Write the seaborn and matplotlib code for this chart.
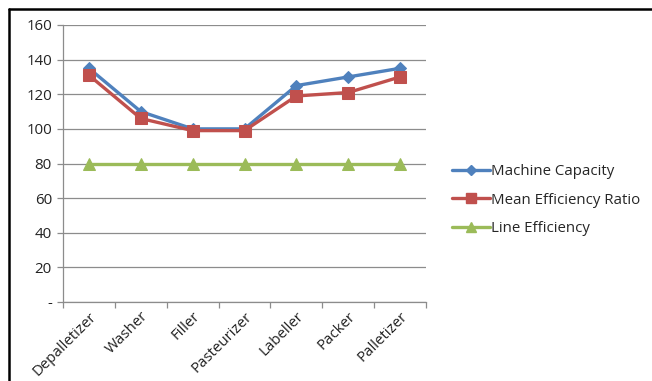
import matplotlib
matplotlib.use("Agg")
import matplotlib.pyplot as plt
from matplotlib.lines import Line2D
from matplotlib.ticker import FixedLocator, FuncFormatter
import seaborn as sns
import pandas as pd

# Production line stages and their rates
stages = ["Depalletizer", "Washer", "Filler", "Pasteurizer", "Labeller", "Packer", "Palletizer"]
machine_capacity = [135, 110, 100, 100, 125, 130, 135]
mean_efficiency_ratio = [131, 106, 99, 99, 119, 121, 130]
line_efficiency = [80, 80, 80, 80, 80, 80, 80]

series_names = ["Machine Capacity", "Mean Efficiency Ratio", "Line Efficiency"]
series_values = [machine_capacity, mean_efficiency_ratio, line_efficiency]
colors = ["#4F81BD", "#C0504D", "#9BBB59"]
markers = ["D", "s", "^"]
marker_sizes = [6.5, 8.5, 8]

sns.set_theme(style="white")
plt.rcParams["font.family"] = ["Open Sans", "DejaVu Sans"]

rows = []
for name, vals in zip(series_names, series_values):
    for i, (stage, v) in enumerate(zip(stages, vals)):
        rows.append({"pos": i, "stage": stage, "series": name, "value": v})
df = pd.DataFrame(rows)

fig = plt.figure(figsize=(6.52, 3.81), dpi=100)
ax = fig.add_axes([63 / 652, 1 - 302 / 381, (426 - 63) / 652, (302 - 25) / 381])

for name, col, mk, ms in zip(series_names, colors, markers, marker_sizes):
    sub = df[df["series"] == name]
    sns.lineplot(data=sub, x="pos", y="value", ax=ax, color=col, linewidth=2.4,
                 marker=mk, markersize=ms, markeredgecolor=col, legend=False)

ax.set_xlim(-0.5, len(stages) - 0.5)
ax.set_ylim(0, 160)
ax.set_xlabel("")
ax.set_ylabel("")

# y axis: gridlines every 20, zero shown as a dash
ax.yaxis.set_major_locator(FixedLocator(range(0, 161, 20)))
ax.yaxis.set_major_formatter(FuncFormatter(lambda v, p: "-" if v == 0 else f"{int(v)}"))
ax.grid(axis="y", color="#8C8C8C", linewidth=0.9)
ax.set_axisbelow(True)

# x axis: labels at categories, tick marks between categories
ax.set_xticks(range(len(stages)))
ax.set_xticklabels(stages, rotation=45, ha="right", rotation_mode="anchor")
ax.set_xticks([i - 0.5 for i in range(len(stages) + 1)], minor=True)
ax.tick_params(axis="x", which="major", length=0, pad=5, labelsize=10.8, colors="#222222")
ax.tick_params(axis="x", which="minor", length=4, width=0.9, color="#8C8C8C", direction="out", bottom=True)
ax.tick_params(axis="y", which="major", length=4, width=0.9, color="#8C8C8C", direction="out",
               left=True, labelsize=10.8, labelcolor="#222222", pad=4)

for side in ["top", "right"]:
    ax.spines[side].set_visible(False)
for side in ["left", "bottom"]:
    ax.spines[side].set_color("#8C8C8C")
    ax.spines[side].set_linewidth(0.9)

handles = [Line2D([0], [0], color=c, linewidth=2.4, marker=m, markersize=s * 0.85, markeredgecolor=c)
           for c, m, s in zip(colors, markers, marker_sizes)]
fig.legend(handles, series_names, loc="center left", bbox_to_anchor=(452 / 652, 1 - 200 / 381),
           frameon=False, fontsize=10.8, handlelength=2.5, handletextpad=0.12, labelspacing=0.9,
           borderaxespad=0, borderpad=0)

# outer frame on the top and left edges
fig.add_artist(Line2D([8.5 / 652, 8.5 / 652], [0, 1 - 9 / 381], color="black", linewidth=1.8,
                      transform=fig.transFigure))
fig.add_artist(Line2D([8.5 / 652, 1], [1 - 9 / 381, 1 - 9 / 381], color="black", linewidth=1.8,
                      transform=fig.transFigure))

fig.savefig("out.png", dpi=100)
